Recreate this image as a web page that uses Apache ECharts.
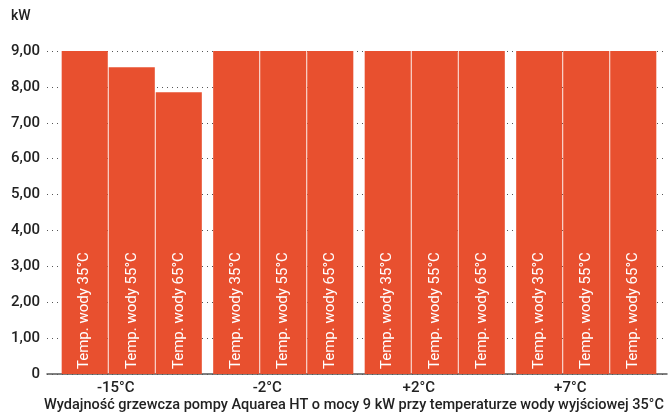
<!DOCTYPE html>
<html>
<head>
<meta charset="utf-8">
<script src="https://cdn.jsdelivr.net/npm/echarts@6/dist/echarts.min.js"></script>
<style>
  html, body { margin: 0; padding: 0; background: #fff; }
  #chart { width: 670px; height: 417px; }
</style>
</head>
<body>
<div id="chart"></div>
<script>
let categories = ['-15°C', '-2°C', '+2°C', '+7°C']
let seriesNames = ['Temp. wody 35°C', 'Temp. wody 55°C', 'Temp. wody 65°C']
let water35 = [9, 9, 9, 9]
let water55 = [8.55, 9, 9, 9]
let water65 = [7.85, 9, 9, 9]
let caption = 'Wydajność grzewcza pompy Aquarea HT o mocy 9 kW przy temperaturze wody wyjściowej 35°C'

let barColor = '#e8502f'
let font = 'Roboto, "DejaVu Sans", sans-serif'

var myChart = echarts.init(document.getElementById('chart'))

function barSeries(name, data) {
  return {
    name: name,
    type: 'bar',
    xAxisIndex: 1,
    yAxisIndex: 1,
    data: data,
    barGap: '2%',
    barCategoryGap: '7.5%',
    itemStyle: { color: barColor },
    label: {
      show: true,
      formatter: name,
      position: 'insideBottom',
      rotate: 90,
      align: 'left',
      verticalAlign: 'middle',
      distance: 5,
      color: '#fff',
      fontSize: 15,
      fontFamily: font
    }
  }
}

myChart.setOption({
  animation: false,
  textStyle: { fontFamily: font },
  graphic: [
    { type: 'text', left: 11, top: 9, style: { text: 'kW', fontSize: 14, fill: '#222', fontWeight: 500, fontFamily: font } },
    { type: 'text', left: 44, top: 398, style: { text: caption, fontSize: 14.5, fill: '#222', fontWeight: 500, fontFamily: font } }
  ],
  grid: [
    { left: 47, right: 3, top: 51, bottom: 43 },
    { left: 56, right: 8, top: 51, bottom: 43 }
  ],
  xAxis: [
    {
      type: 'category',
      gridIndex: 0,
      data: categories,
      axisLine: { lineStyle: { color: '#555', width: 1.5 } },
      axisTick: { show: false },
      axisLabel: { show: false }
    },
    {
      type: 'category',
      gridIndex: 1,
      data: categories,
      axisLine: { show: false },
      axisTick: { show: false },
      axisLabel: {
        color: '#222',
        fontSize: 15,
        fontWeight: 500,
        margin: 7,
        padding: [0, 32, 0, 0]
      }
    }
  ],
  yAxis: [
    {
      type: 'value',
      gridIndex: 0,
      min: 0,
      max: 9,
      interval: 1,
      axisLine: { show: false },
      axisTick: { show: false },
      axisLabel: {
        color: '#222',
        fontSize: 15,
        fontWeight: 500,
        margin: 7,
        formatter: function (v) {
          return v === 0 ? '0' : v.toFixed(2).replace('.', ',')
        }
      },
      splitLine: {
        lineStyle: { color: '#555', type: [1, 4], width: 1 }
      }
    },
    {
      type: 'value',
      gridIndex: 1,
      min: 0,
      max: 9,
      interval: 1,
      show: false,
      splitLine: { show: false }
    }
  ],
  series: [
    barSeries(seriesNames[0], water35),
    barSeries(seriesNames[1], water55),
    barSeries(seriesNames[2], water65)
  ]
})
</script>
</body>
</html>
